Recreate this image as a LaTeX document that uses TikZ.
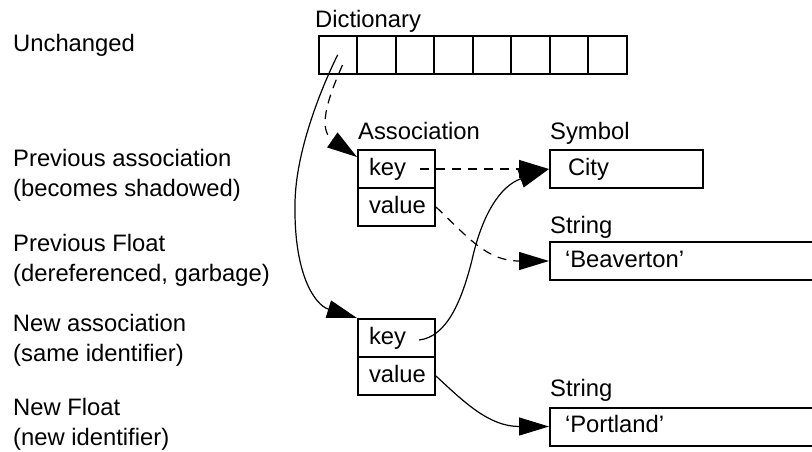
\documentclass[tikz,border=0pt]{standalone}
\usepackage{fontspec}
\setmainfont{Liberation Sans}
\usetikzlibrary{arrows.meta,calc}

\begin{document}
\begin{tikzpicture}[x=1pt,y=-1pt,
  every node/.style={font=\fontsize{23.8}{30}\selectfont, inner sep=0pt},
  lbl/.style={anchor=base west},
  boxline/.style={draw, line width=2pt},
  dcell/.style={boxline, anchor=north west, minimum width=38.5pt, minimum height=37.5pt},
  acell/.style={boxline, anchor=north west, minimum height=38pt,
    inner xsep=11pt, text width=55pt, align=left, text height=17pt, text depth=4.5pt},
  obj/.style={boxline, anchor=north west, minimum height=38pt,
    align=left, text height=17pt, text depth=4.5pt},
  conn/.style={line width=1.2pt, -{Triangle[length=30pt,width=18pt]}},
  ghost/.style={conn, dash pattern=on 9pt off 7pt},
]
\clip (0,0) rectangle (812,451);

% left-hand captions
\node[lbl] (cUnch)  at (13,51.7)  {Unchanged};
\node[lbl] (cPrevA) at (13,166.7) {Previous association};
\node[lbl] (cPrevB) at (13,196.7) {(becomes shadowed)};
\node[lbl] (cFltA)  at (13,251.7) {Previous Float};
\node[lbl] (cFltB)  at (13,281.7) {(dereferenced, garbage)};
\node[lbl] (cNewA)  at (12.7,331.7) {New association};
\node[lbl] (cNewB)  at (13,361.7) {(same identifier)};
\node[lbl] (cNFA)   at (13,415)   {New Float};
\node[lbl] (cNFB)   at (13,445)   {(new identifier)};

% dictionary slots
\node[lbl] (tDict) at (315,27.5) {Dictionary};
\foreach \i in {1,...,8}
  \node[dcell] (d\i) at ({317.5+38.5*(\i-1)},35) {};

% old association
\node[lbl] (tAssoc) at (358,139.3) {Association};
\node[acell] (a1key) at (357,149) {key};
\node[acell] (a1val) at (357,187) {value};

% new association
\node[acell] (a2key) at (357,318) {key};
\node[acell] (a2val) at (357,356) {value};

% symbol and strings
\node[lbl] (tSym) at (550,139.3) {Symbol};
\node[obj, inner xsep=18pt, text width=117pt] (sym) at (549,149) {City};
\node[lbl] (tStr1) at (550,233.3) {String};
\node[obj, inner xsep=15pt, text width=271pt] (beav) at (549,241) {‘Beaverton’};
\node[lbl] (tStr2) at (550,396.7) {String};
\node[obj, inner xsep=15pt, text width=271pt] (port) at (549,406.5) {‘Portland’};

% superseded references (dashed)
\draw[ghost] ([shift={(4.75,10.25)}]d1.center)
  .. controls +(-16,36) and +(-39,-27) .. ([shift={(0,8)}]a1key.north west);
\draw[ghost] ([shift={(-16,0)}]a1key.east) -- (sym.west);
\draw[ghost] (a1val.east) .. controls +(31,29) and +(-63,0) .. (beav.west);

% current references
\draw[conn] (d1.center) .. controls +(-14,28) and +(0,-55) .. (295,205)
  .. controls +(-1,70) and +(-42,-13) .. (a2key.north west);
\draw[conn] ([shift={(-17,2)}]a2key.east) .. controls +(28,-3) and +(-10,40) .. (472,260)
  .. controls +(10,-45) and +(-49,17) .. (sym.west);
\draw[conn] (a2val.east) .. controls +(28,26) and +(-60,0) .. (port.west);
\end{tikzpicture}
\end{document}
